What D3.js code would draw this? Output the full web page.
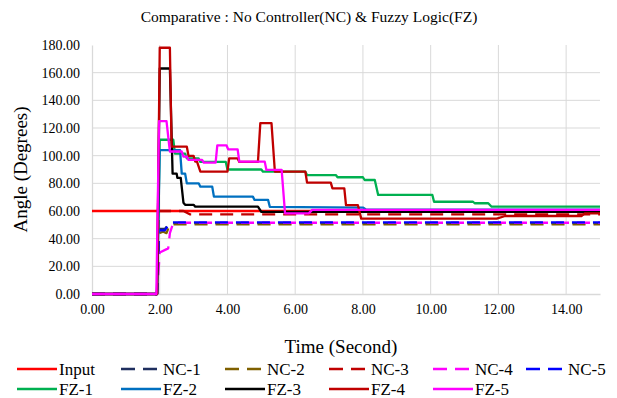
<!DOCTYPE html>
<html>
<head>
<meta charset="utf-8">
<script src="https://cdn.jsdelivr.net/npm/d3@7"></script>
</head>
<body style="margin:0;background:#fff">
<div id="chart"></div>
<script>
// Series data (time in seconds, angle in degrees)
const inputT = [0, 15];
const inputV = [60, 60];

const nc1T = [0, 1.92, 1.98, 2.15, 2.3, 15];
const nc1V = [0, 0, 47, 47, 51.3, 51.3];
const nc2T = [0, 1.92, 1.98, 2.1, 2.2, 2.3, 15];
const nc2V = [0, 0, 44, 45, 44, 50.4, 50.4];
const nc3T = [0, 1.92, 1.98, 2.7, 2.9, 15];
const nc3V = [0, 0, 60, 60, 57.5, 57.5];
const nc4T = [0, 1.92, 2.0, 2.25, 2.3, 2.4, 15];
const nc4V = [0, 0, 30, 33, 44, 51.5, 51.5];
const nc5T = [0, 1.92, 1.98, 2.15, 2.3, 15];
const nc5V = [0, 0, 46, 46, 51.8, 51.8];

const fz1T = [0, 1.92, 2.0, 2.4, 2.45, 2.75, 2.8, 3.15, 3.2, 3.95, 4.0, 5.0, 5.05, 6.3, 6.35, 7.2, 7.25, 8.0, 8.05, 8.35, 8.45, 10.05, 10.1, 11.25, 11.3, 11.7, 11.8, 15];
const fz1V = [0, 0, 111.5, 111.5, 101.5, 101.5, 98, 98, 95.5, 95.5, 90, 90, 88.4, 88.4, 86, 86, 84.4, 84.4, 82.4, 82.4, 71.6, 71.6, 66.7, 66.7, 65.6, 65.6, 63.1, 63.1];
const fz2T = [0, 1.92, 2.0, 2.6, 2.65, 2.75, 2.8, 3.15, 3.2, 3.55, 3.6, 4.75, 4.8, 5.2, 5.25, 8.0, 8.1, 15];
const fz2V = [0, 0, 104, 104, 87, 87, 80, 80, 77.6, 77.6, 70.4, 70.4, 68, 68, 63, 62.5, 61, 61];
const fz3T = [0, 1.92, 2.0, 2.3, 2.38, 2.5, 2.52, 2.62, 2.7, 2.75, 3.0, 3.05, 4.9, 5.0, 15];
const fz3V = [0, 0, 163, 163, 87, 87, 84, 84, 66, 64.5, 64.5, 63.1, 63.1, 59.3, 59.3];
const fz4T = [0, 1.92, 2.0, 2.3, 2.35, 2.8, 2.85, 3.0, 3.05, 3.1, 3.2, 4.0, 4.05, 4.3, 4.35, 4.9, 4.97, 5.3, 5.4, 6.3, 6.35, 7.05, 7.1, 7.45, 7.5, 7.85, 7.95, 11.95, 12.2, 14.45, 14.55, 15];
const fz4V = [0, 0, 178, 178, 106.5, 106.5, 99.8, 99.8, 95.7, 95.7, 88.4, 88.4, 98, 98, 95.5, 95.5, 123.5, 123.5, 88.4, 88.4, 80.5, 80.5, 76.4, 76.4, 64.3, 64.3, 54.5, 54.5, 56.4, 56.4, 58.3, 58.3];
const fz5T = [0, 1.9, 1.98, 2.2, 2.3, 2.65, 2.7, 2.8, 2.85, 3.25, 3.3, 3.65, 3.7, 3.97, 4.02, 4.3, 4.35, 5.1, 5.15, 5.6, 5.7, 6.4, 6.5, 15];
const fz5V = [0, 0, 125, 125, 103, 103, 99.3, 99.3, 96.9, 96.9, 95, 95, 107.5, 107.5, 104.6, 104.6, 95.7, 95.7, 89.7, 89.7, 58.3, 58.3, 60.8, 60.8];

const xTicks = [0, 2, 4, 6, 8, 10, 12, 14];
const yTicks = [0, 20, 40, 60, 80, 100, 120, 140, 160, 180];

const series = [
  { name: "Input", t: inputT, v: inputV, color: "#ff0000", dash: false },
  { name: "NC-1", t: nc1T, v: nc1V, color: "#1f2f5f", dash: true },
  { name: "NC-2", t: nc2T, v: nc2V, color: "#7f6000", dash: true },
  { name: "NC-3", t: nc3T, v: nc3V, color: "#c00000", dash: true },
  { name: "NC-4", t: nc4T, v: nc4V, color: "#ff00ff", dash: true },
  { name: "NC-5", t: nc5T, v: nc5V, color: "#0000ff", dash: true },
  { name: "FZ-1", t: fz1T, v: fz1V, color: "#00b050", dash: false },
  { name: "FZ-2", t: fz2T, v: fz2V, color: "#0070c0", dash: false },
  { name: "FZ-3", t: fz3T, v: fz3V, color: "#000000", dash: false },
  { name: "FZ-4", t: fz4T, v: fz4V, color: "#c00000", dash: false },
  { name: "FZ-5", t: fz5T, v: fz5V, color: "#ff00ff", dash: false }
];

const SERIF = "Liberation Serif";
const W = 617, H = 398;
const margin = { top: 45, right: 17, bottom: 104, left: 92 },
    width = W - margin.left - margin.right,
    height = H - margin.top - margin.bottom;

const svg = d3.select("#chart").append("svg")
    .attr("width", W)
    .attr("height", H);

const g = svg.append("g")
    .attr("transform", "translate(" + margin.left + "," + margin.top + ")");

const x = d3.scaleLinear().domain([0, 15]).range([0, width]);
const y = d3.scaleLinear().domain([0, 180]).range([height, 0]);

// gridlines
g.append("g").selectAll("line")
    .data(yTicks.filter(d => d > 0 && d < 180))
    .join("line")
    .attr("x1", 0).attr("x2", width)
    .attr("y1", d => y(d)).attr("y2", d => y(d))
    .attr("stroke", "#d9d9d9").attr("stroke-width", 1);

g.append("g").selectAll("line")
    .data(xTicks.filter(d => d > 0))
    .join("line")
    .attr("x1", d => x(d)).attr("x2", d => x(d))
    .attr("y1", 0).attr("y2", height)
    .attr("stroke", "#d9d9d9").attr("stroke-width", 1);

// axes
const xAxis = g.append("g")
    .attr("transform", "translate(0," + height + ")")
    .call(d3.axisBottom(x).tickValues(xTicks).tickFormat(d3.format(".2f")).tickSize(0).tickPadding(10));
const yAxis = g.append("g")
    .call(d3.axisLeft(y).tickValues(yTicks).tickFormat(d3.format(".2f")).tickSize(0).tickPadding(12));
[xAxis, yAxis].forEach(a => {
    a.select(".domain").attr("stroke", "#d9d9d9").attr("stroke-width", 1.3);
    a.selectAll("text")
        .attr("fill", "#000")
        .attr("font-family", SERIF)
        .attr("font-size", 14);
});

// lines
const line = d3.line()
    .x(d => x(d[0]))
    .y(d => y(d[1]));

series.forEach(s => {
    g.append("path")
        .datum(s.t.map((t, i) => [t, s.v[i]]))
        .attr("fill", "none")
        .attr("stroke", s.color)
        .attr("stroke-width", 2.3)
        .attr("stroke-linejoin", "round")
        .attr("stroke-dasharray", s.dash ? "13,8" : null)
        .attr("d", line);
});

// titles
svg.append("text")
    .attr("x", 309).attr("y", 22)
    .attr("text-anchor", "middle")
    .attr("font-family", SERIF)
    .attr("font-size", 15.5)
    .text("Comparative : No Controller(NC) & Fuzzy Logic(FZ)");

svg.append("text")
    .attr("x", margin.left + width / 2 - 5).attr("y", 353)
    .attr("text-anchor", "middle")
    .attr("font-family", SERIF)
    .attr("font-size", 19)
    .text("Time (Second)");

svg.append("text")
    .attr("transform", "translate(27," + (margin.top + height / 2) + ")rotate(-90)")
    .attr("text-anchor", "middle")
    .attr("font-family", SERIF)
    .attr("font-size", 19)
    .text("Angle (Degrees)");

// legend
const colX = [17, 121, 225, 329, 433, 526];
const legend = svg.append("g");
series.forEach((s, i) => {
    const row = i < 6 ? 0 : 1;
    const col = i < 6 ? i : i - 6;
    const lx = colX[col], ly = row === 0 ? 369 : 389;
    legend.append("line")
        .attr("x1", lx).attr("x2", lx + 40)
        .attr("y1", ly).attr("y2", ly)
        .attr("stroke", s.color)
        .attr("stroke-width", 2.5)
        .attr("stroke-dasharray", s.dash ? "14,8" : null);
    legend.append("text")
        .attr("x", lx + 42).attr("y", ly + 6)
        .attr("font-family", SERIF)
        .attr("font-size", 17)
        .text(s.name);
});
</script>
</body>
</html>
